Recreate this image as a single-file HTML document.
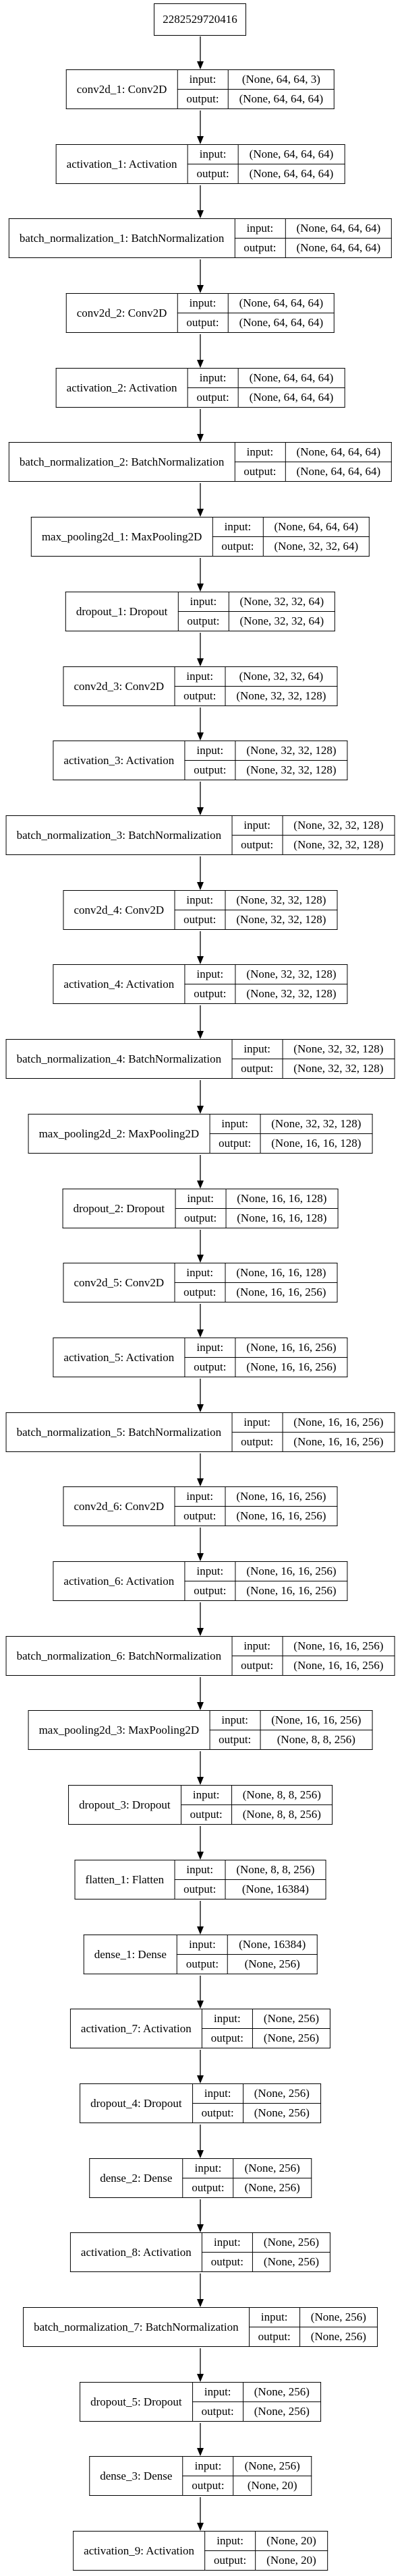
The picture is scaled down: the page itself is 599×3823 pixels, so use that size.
<!DOCTYPE html>
<html><head><meta charset="utf-8"><style>
html,body{margin:0;padding:0;background:#fff;}
body{width:599px;height:3823px;position:relative;overflow:hidden;font-family:"Liberation Serif",serif;font-size:17px;color:#000;}
.n{position:absolute;left:297px;transform:translateX(-50%);}
table{border-collapse:collapse;border:1.5px solid #000;background:#fff;}
td{border:1.5px solid #000;height:28px;padding:0;text-align:center;white-space:nowrap;line-height:28px;}
td.a{padding:0 15px;}
td.l{padding:0 13px;}
td.v{padding:0 16px;}
#inp{position:absolute;left:228px;top:5px;width:135px;height:46px;border:1.5px solid #000;text-align:center;line-height:46px;}
svg{position:absolute;left:0;top:0;}
</style></head><body>
<svg width="599" height="3823" id="arr"></svg>
<div id="inp">2282529720416</div>

<div class="n" style="top:103px"><table><tr><td class="a" rowspan="2">conv2d_1: Conv2D</td><td class="l">input:</td><td class="v">(None, 64, 64, 3)</td></tr><tr><td class="l">output:</td><td class="v">(None, 64, 64, 64)</td></tr></table></div>
<div class="n" style="top:214px"><table><tr><td class="a" rowspan="2">activation_1: Activation</td><td class="l">input:</td><td class="v">(None, 64, 64, 64)</td></tr><tr><td class="l">output:</td><td class="v">(None, 64, 64, 64)</td></tr></table></div>
<div class="n" style="top:324px"><table><tr><td class="a" rowspan="2">batch_normalization_1: BatchNormalization</td><td class="l">input:</td><td class="v">(None, 64, 64, 64)</td></tr><tr><td class="l">output:</td><td class="v">(None, 64, 64, 64)</td></tr></table></div>
<div class="n" style="top:435px"><table><tr><td class="a" rowspan="2">conv2d_2: Conv2D</td><td class="l">input:</td><td class="v">(None, 64, 64, 64)</td></tr><tr><td class="l">output:</td><td class="v">(None, 64, 64, 64)</td></tr></table></div>
<div class="n" style="top:546px"><table><tr><td class="a" rowspan="2">activation_2: Activation</td><td class="l">input:</td><td class="v">(None, 64, 64, 64)</td></tr><tr><td class="l">output:</td><td class="v">(None, 64, 64, 64)</td></tr></table></div>
<div class="n" style="top:656px"><table><tr><td class="a" rowspan="2">batch_normalization_2: BatchNormalization</td><td class="l">input:</td><td class="v">(None, 64, 64, 64)</td></tr><tr><td class="l">output:</td><td class="v">(None, 64, 64, 64)</td></tr></table></div>
<div class="n" style="top:767px"><table><tr><td class="a" rowspan="2">max_pooling2d_1: MaxPooling2D</td><td class="l">input:</td><td class="v">(None, 64, 64, 64)</td></tr><tr><td class="l">output:</td><td class="v">(None, 32, 32, 64)</td></tr></table></div>
<div class="n" style="top:878px"><table><tr><td class="a" rowspan="2">dropout_1: Dropout</td><td class="l">input:</td><td class="v">(None, 32, 32, 64)</td></tr><tr><td class="l">output:</td><td class="v">(None, 32, 32, 64)</td></tr></table></div>
<div class="n" style="top:989px"><table><tr><td class="a" rowspan="2">conv2d_3: Conv2D</td><td class="l">input:</td><td class="v">(None, 32, 32, 64)</td></tr><tr><td class="l">output:</td><td class="v">(None, 32, 32, 128)</td></tr></table></div>
<div class="n" style="top:1099px"><table><tr><td class="a" rowspan="2">activation_3: Activation</td><td class="l">input:</td><td class="v">(None, 32, 32, 128)</td></tr><tr><td class="l">output:</td><td class="v">(None, 32, 32, 128)</td></tr></table></div>
<div class="n" style="top:1210px"><table><tr><td class="a" rowspan="2">batch_normalization_3: BatchNormalization</td><td class="l">input:</td><td class="v">(None, 32, 32, 128)</td></tr><tr><td class="l">output:</td><td class="v">(None, 32, 32, 128)</td></tr></table></div>
<div class="n" style="top:1321px"><table><tr><td class="a" rowspan="2">conv2d_4: Conv2D</td><td class="l">input:</td><td class="v">(None, 32, 32, 128)</td></tr><tr><td class="l">output:</td><td class="v">(None, 32, 32, 128)</td></tr></table></div>
<div class="n" style="top:1431px"><table><tr><td class="a" rowspan="2">activation_4: Activation</td><td class="l">input:</td><td class="v">(None, 32, 32, 128)</td></tr><tr><td class="l">output:</td><td class="v">(None, 32, 32, 128)</td></tr></table></div>
<div class="n" style="top:1542px"><table><tr><td class="a" rowspan="2">batch_normalization_4: BatchNormalization</td><td class="l">input:</td><td class="v">(None, 32, 32, 128)</td></tr><tr><td class="l">output:</td><td class="v">(None, 32, 32, 128)</td></tr></table></div>
<div class="n" style="top:1653px"><table><tr><td class="a" rowspan="2">max_pooling2d_2: MaxPooling2D</td><td class="l">input:</td><td class="v">(None, 32, 32, 128)</td></tr><tr><td class="l">output:</td><td class="v">(None, 16, 16, 128)</td></tr></table></div>
<div class="n" style="top:1764px"><table><tr><td class="a" rowspan="2">dropout_2: Dropout</td><td class="l">input:</td><td class="v">(None, 16, 16, 128)</td></tr><tr><td class="l">output:</td><td class="v">(None, 16, 16, 128)</td></tr></table></div>
<div class="n" style="top:1874px"><table><tr><td class="a" rowspan="2">conv2d_5: Conv2D</td><td class="l">input:</td><td class="v">(None, 16, 16, 128)</td></tr><tr><td class="l">output:</td><td class="v">(None, 16, 16, 256)</td></tr></table></div>
<div class="n" style="top:1985px"><table><tr><td class="a" rowspan="2">activation_5: Activation</td><td class="l">input:</td><td class="v">(None, 16, 16, 256)</td></tr><tr><td class="l">output:</td><td class="v">(None, 16, 16, 256)</td></tr></table></div>
<div class="n" style="top:2096px"><table><tr><td class="a" rowspan="2">batch_normalization_5: BatchNormalization</td><td class="l">input:</td><td class="v">(None, 16, 16, 256)</td></tr><tr><td class="l">output:</td><td class="v">(None, 16, 16, 256)</td></tr></table></div>
<div class="n" style="top:2206px"><table><tr><td class="a" rowspan="2">conv2d_6: Conv2D</td><td class="l">input:</td><td class="v">(None, 16, 16, 256)</td></tr><tr><td class="l">output:</td><td class="v">(None, 16, 16, 256)</td></tr></table></div>
<div class="n" style="top:2317px"><table><tr><td class="a" rowspan="2">activation_6: Activation</td><td class="l">input:</td><td class="v">(None, 16, 16, 256)</td></tr><tr><td class="l">output:</td><td class="v">(None, 16, 16, 256)</td></tr></table></div>
<div class="n" style="top:2428px"><table><tr><td class="a" rowspan="2">batch_normalization_6: BatchNormalization</td><td class="l">input:</td><td class="v">(None, 16, 16, 256)</td></tr><tr><td class="l">output:</td><td class="v">(None, 16, 16, 256)</td></tr></table></div>
<div class="n" style="top:2538px"><table><tr><td class="a" rowspan="2">max_pooling2d_3: MaxPooling2D</td><td class="l">input:</td><td class="v">(None, 16, 16, 256)</td></tr><tr><td class="l">output:</td><td class="v">(None, 8, 8, 256)</td></tr></table></div>
<div class="n" style="top:2649px"><table><tr><td class="a" rowspan="2">dropout_3: Dropout</td><td class="l">input:</td><td class="v">(None, 8, 8, 256)</td></tr><tr><td class="l">output:</td><td class="v">(None, 8, 8, 256)</td></tr></table></div>
<div class="n" style="top:2760px"><table><tr><td class="a" rowspan="2">flatten_1: Flatten</td><td class="l">input:</td><td class="v">(None, 8, 8, 256)</td></tr><tr><td class="l">output:</td><td class="v">(None, 16384)</td></tr></table></div>
<div class="n" style="top:2871px"><table><tr><td class="a" rowspan="2">dense_1: Dense</td><td class="l">input:</td><td class="v">(None, 16384)</td></tr><tr><td class="l">output:</td><td class="v">(None, 256)</td></tr></table></div>
<div class="n" style="top:2981px"><table><tr><td class="a" rowspan="2">activation_7: Activation</td><td class="l">input:</td><td class="v">(None, 256)</td></tr><tr><td class="l">output:</td><td class="v">(None, 256)</td></tr></table></div>
<div class="n" style="top:3092px"><table><tr><td class="a" rowspan="2">dropout_4: Dropout</td><td class="l">input:</td><td class="v">(None, 256)</td></tr><tr><td class="l">output:</td><td class="v">(None, 256)</td></tr></table></div>
<div class="n" style="top:3203px"><table><tr><td class="a" rowspan="2">dense_2: Dense</td><td class="l">input:</td><td class="v">(None, 256)</td></tr><tr><td class="l">output:</td><td class="v">(None, 256)</td></tr></table></div>
<div class="n" style="top:3313px"><table><tr><td class="a" rowspan="2">activation_8: Activation</td><td class="l">input:</td><td class="v">(None, 256)</td></tr><tr><td class="l">output:</td><td class="v">(None, 256)</td></tr></table></div>
<div class="n" style="top:3424px"><table><tr><td class="a" rowspan="2">batch_normalization_7: BatchNormalization</td><td class="l">input:</td><td class="v">(None, 256)</td></tr><tr><td class="l">output:</td><td class="v">(None, 256)</td></tr></table></div>
<div class="n" style="top:3535px"><table><tr><td class="a" rowspan="2">dropout_5: Dropout</td><td class="l">input:</td><td class="v">(None, 256)</td></tr><tr><td class="l">output:</td><td class="v">(None, 256)</td></tr></table></div>
<div class="n" style="top:3645px"><table><tr><td class="a" rowspan="2">dense_3: Dense</td><td class="l">input:</td><td class="v">(None, 256)</td></tr><tr><td class="l">output:</td><td class="v">(None, 20)</td></tr></table></div>
<div class="n" style="top:3756px"><table><tr><td class="a" rowspan="2">activation_9: Activation</td><td class="l">input:</td><td class="v">(None, 20)</td></tr><tr><td class="l">output:</td><td class="v">(None, 20)</td></tr></table></div>

<script>
var tops=[103,214,324,435,546,656,767,878,989,1099,1210,1321,1431,1542,1653,1764,1874,1985,2096,2206,2317,2428,2538,2649,2760,2871,2981,3092,3203,3313,3424,3535,3645,3756];
var s='',x=297;
function arrow(a,b){s+='<line x1="'+x+'" y1="'+a+'" x2="'+x+'" y2="'+(b-12)+'" stroke="#000" stroke-width="1.3"/>';
s+='<polygon points="'+(x-5)+','+(b-12)+' '+(x+5)+','+(b-12)+' '+x+','+b+'" fill="#000"/>';}
arrow(54,tops[0]);
for(var i=0;i<tops.length-1;i++)arrow(tops[i]+61,tops[i+1]);
document.getElementById('arr').innerHTML=s;
</script>
</body></html>
